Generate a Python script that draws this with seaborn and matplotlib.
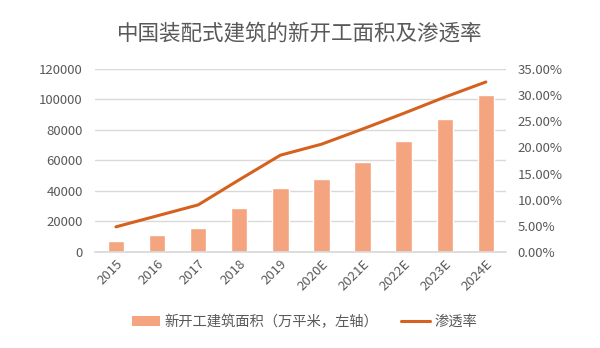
import matplotlib
matplotlib.use("Agg")
import matplotlib.pyplot as plt
import seaborn as sns
import numpy as np
import pandas as pd
from matplotlib.ticker import FuncFormatter
from matplotlib.patches import Patch
from matplotlib.lines import Line2D

years = ["2015", "2016", "2017", "2018", "2019", "2020E", "2021E", "2022E", "2023E", "2024E"]
area = [7000, 11000, 16000, 29000, 42000, 48000, 59000, 73000, 87000, 103000]
rate = [4.8, 6.9, 9.0, 13.8, 18.5, 20.6, 23.5, 26.5, 29.6, 32.5]
left_ticks = [0, 20000, 40000, 60000, 80000, 100000, 120000]
right_ticks = [0, 5, 10, 15, 20, 25, 30, 35]

title = "中国装配式建筑的新开工面积及渗透率"
bar_label = "新开工建筑面积（万平米，左轴）"
line_label = "渗透率"

sns.set_theme(style="white")
plt.rcParams['font.family'] = ['Noto Sans CJK SC', 'DejaVu Sans']

bar_color = "#F4A47E"
line_color = "#D4621E"
text_color = "#595959"
grid_color = "#D9D9D9"

df = pd.DataFrame({"year": years, "area": area, "rate": rate})

fig = plt.figure(figsize=(6, 3.48), dpi=100)
ax = fig.add_axes([0.159, 0.276, 0.685, 0.526])

sns.barplot(data=df, x="year", y="area", color=bar_color, width=0.4,
            saturation=1, ax=ax, zorder=2)
ax.set_ylim(0, 120000)
ax.set_yticks(left_ticks)
ax.set_xlim(-0.5, len(years) - 0.5)
ax.grid(axis="y", color=grid_color, linewidth=1, zorder=0)
ax.set_axisbelow(True)
for s in ax.spines.values():
    s.set_visible(False)
ax.spines["bottom"].set_visible(True)
ax.spines["bottom"].set_color(grid_color)
ax.set_xlabel("")
ax.set_ylabel("")
ax.tick_params(axis="both", length=0, colors=text_color, labelsize=9.5)
ax.tick_params(axis="y", pad=9)
ax.set_xticks(range(len(years)))
ax.set_xticklabels(years, rotation=45, ha="right", rotation_mode="anchor")
ax.tick_params(axis="x", pad=4)

ax2 = ax.twinx()
sns.lineplot(x=np.arange(len(years)), y=df["rate"], color=line_color,
             linewidth=2.2, ax=ax2)
ax2.set_ylim(0, 35)
ax2.set_yticks(right_ticks)
ax2.yaxis.set_major_formatter(FuncFormatter(lambda v, p: f"{v:.2f}%"))
for s in ax2.spines.values():
    s.set_visible(False)
ax2.tick_params(axis="y", length=0, colors=text_color, labelsize=9.5, pad=8)
ax2.set_ylabel("")
ax2.set_xlim(-0.5, len(years) - 0.5)

fig.text(0.5, 0.905, title, ha="center", va="center", fontsize=15.5, color=text_color)

handles = [Patch(facecolor=bar_color, edgecolor="none"),
           Line2D([0], [0], color=line_color, linewidth=2.2)]
fig.legend(handles, [bar_label, line_label], loc="center", bbox_to_anchor=(0.507, 0.075),
           ncol=2, frameon=False, fontsize=10.3, labelcolor=text_color,
           handlelength=2.0, handleheight=0.6, columnspacing=1.6, handletextpad=0.3)

fig.savefig("out.png", dpi=100, facecolor="white")
